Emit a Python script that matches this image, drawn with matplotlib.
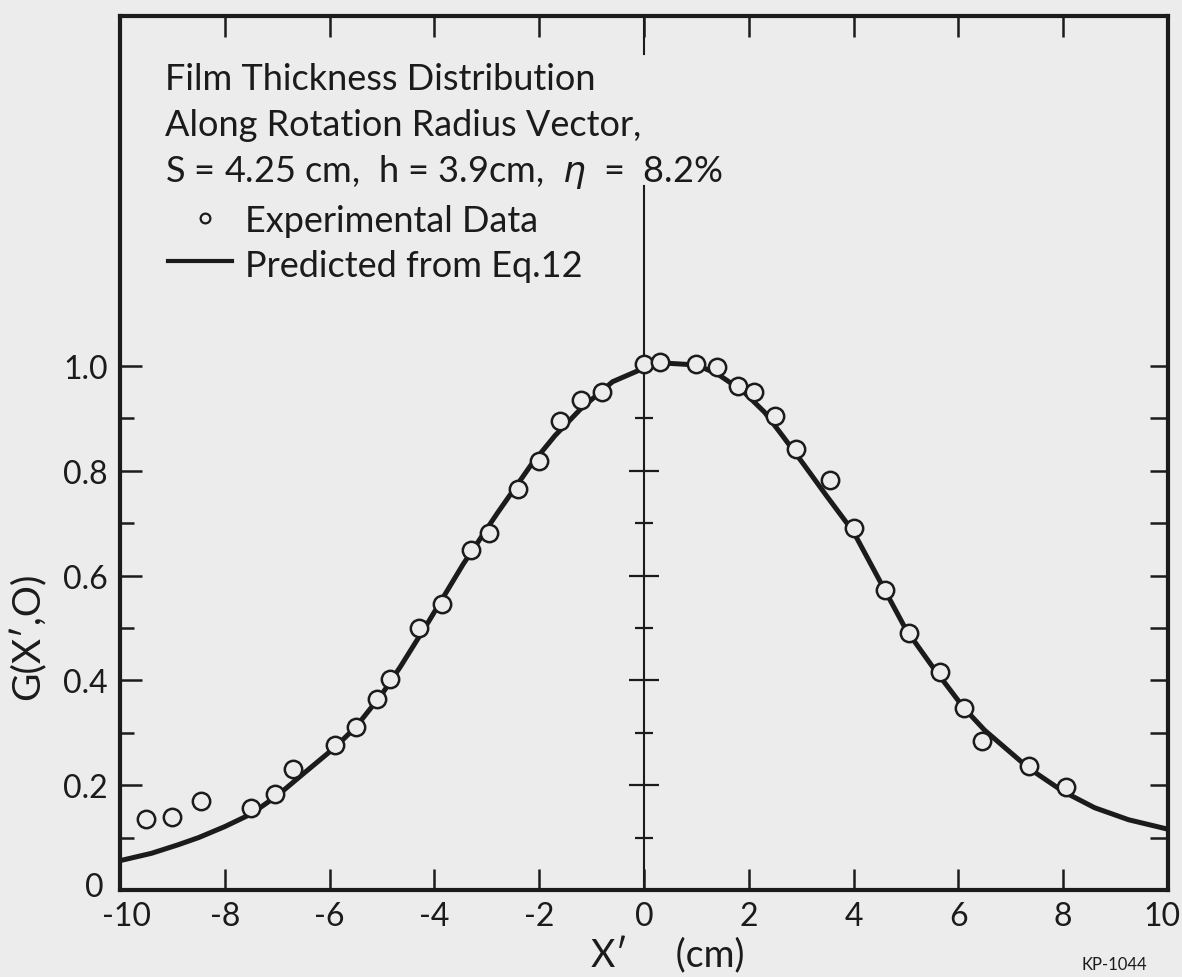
import numpy as np
import matplotlib.pyplot as plt
from matplotlib.lines import Line2D
from matplotlib.transforms import ScaledTranslation

plt.rcParams['font.family'] = ['Lato', 'DejaVu Sans']

# experimental data (circles)
exp_x = [-9.5, -9.0, -8.45, -7.5, -7.05, -6.7, -5.9, -5.5, -5.1, -4.85, -4.3, -3.85,
         -3.3, -2.95, -2.4, -2.0, -1.6, -1.2, -0.8, 0.0, 0.3, 1.0, 1.4, 1.8, 2.1, 2.5,
         2.9, 3.55, 4.0, 4.6, 5.05, 5.65, 6.1, 6.45, 7.35, 8.05]
exp_y = [0.135, 0.139, 0.169, 0.156, 0.183, 0.231, 0.276, 0.312, 0.365, 0.403, 0.50, 0.546,
         0.649, 0.681, 0.765, 0.818, 0.895, 0.935, 0.95, 1.003, 1.008, 1.004, 0.998, 0.962, 0.95, 0.905,
         0.842, 0.782, 0.69, 0.573, 0.49, 0.416, 0.347, 0.284, 0.237, 0.197]

# predicted curve (Eq. 12)
pred_x = [-10, -9.4, -8.9, -8.5, -8.0, -7.5, -7.0, -6.5, -5.9, -5.5, -5.0, -4.65, -4.1,
          -3.45, -2.8, -2.15, -1.7, -1.2, -0.6, 0.0, 0.5, 1.0, 1.4, 1.9, 2.3, 2.65, 3.05,
          3.5, 4.0, 4.5, 5.0, 5.5, 6.1, 6.5, 7.0, 7.35, 8.0, 8.6, 9.25, 10]
pred_y = [0.056, 0.070, 0.086, 0.100, 0.121, 0.145, 0.180, 0.222, 0.272, 0.311, 0.374, 0.426, 0.514,
          0.622, 0.719, 0.812, 0.867, 0.919, 0.970, 0.996, 1.005, 1.002, 0.985, 0.951, 0.912, 0.866, 0.812,
          0.75, 0.683, 0.59, 0.497, 0.427, 0.348, 0.305, 0.262, 0.232, 0.188, 0.157, 0.134, 0.116]

x_ticks = [-10, -8, -6, -4, -2, 0, 2, 4, 6, 8, 10]
x_labels = ['-10', '-8', '-6', '-4', '-2', '0', '2', '4', '6', '8', '10']
y_major = [0, 0.2, 0.4, 0.6, 0.8, 1.0]
y_labels = ['0', '0.2', '0.4', '0.6', '0.8', '1.0']
y_minor = [0.1, 0.3, 0.5, 0.7, 0.9]
right_ticks = [0.1, 0.2, 0.3, 0.4, 0.5, 0.6, 0.7, 0.8, 0.9, 1.0]
center_major = [0.2, 0.4, 0.6, 0.8]
center_minor = [0.1, 0.3, 0.5, 0.7, 0.9]
y_top = 1.668

note_lines = ['Film Thickness Distribution',
              'Along Rotation Radius Vector,',
              r'S = 4.25 cm,  h = 3.9cm,  $\eta$  =  8.2%']

ink = '#1b1b1b'
paper = '#ececec'
W, H = 1182, 978

fig = plt.figure(figsize=(W / 100, H / 100), dpi=100, facecolor=paper)
ax = fig.add_axes([120 / W, 87 / H, 1048 / W, 874 / H], facecolor=paper)
ax.set_xlim(-10, 10)
ax.set_ylim(0, y_top)

for s in ax.spines.values():
    s.set_linewidth(3)
    s.set_color(ink)

ax.set_xticks(x_ticks)
ax.set_xticklabels(x_labels)
ax.set_yticks(y_major)
ax.set_yticklabels(y_labels)
ax.set_yticks(y_minor, minor=True)
ax.tick_params(axis='x', which='major', direction='in', length=15, width=1.8,
               top=True, labelsize=23, pad=8, colors=ink)
ax.tick_params(axis='y', which='major', direction='in', length=16, width=1.8,
               labelsize=23, pad=9, colors=ink)
ax.tick_params(axis='y', which='minor', direction='in', length=10, width=1.8, colors=ink)

# nudge the corner labels the way the drawing has them
xl = ax.get_xticklabels()
xl[0].set_transform(xl[0].get_transform() + ScaledTranslation(0.07, 0, fig.dpi_scale_trans))
xl[-1].set_transform(xl[-1].get_transform() + ScaledTranslation(-0.06, 0, fig.dpi_scale_trans))
yl = ax.get_yticklabels()
yl[0].set_transform(yl[0].get_transform() + ScaledTranslation(-0.04, 0.06, fig.dpi_scale_trans))

# right-hand ticks, all the same length
ax2 = ax.twinx()
ax2.set_ylim(0, y_top)
ax2.set_yticks(right_ticks)
ax2.tick_params(axis='y', direction='in', length=13, width=1.8, labelright=False, colors=ink)
for s in ax2.spines.values():
    s.set_visible(False)

# central axis at x = 0, broken behind the note text
ax.plot([0, 0], [0, 1.343], color=ink, lw=1.5, zorder=2)
ax.plot([0, 0], [1.595, y_top], color=ink, lw=1.5, zorder=2)
ax.plot(np.zeros(len(center_major)), center_major, ls='none', marker='_', ms=22, mew=1.6, color=ink)
ax.plot(np.zeros(len(center_minor)), center_minor, ls='none', marker='_', ms=13, mew=1.6, color=ink)

ax.plot(pred_x, pred_y, color=ink, lw=3.6, solid_joinstyle='round', zorder=3)
ax.plot(exp_x, exp_y, ls='none', marker='o', ms=12.5, mew=1.8, mec=ink, mfc=paper, zorder=4)

# note and hand-drawn legend
for i, line in enumerate(note_lines):
    fig.text(165 / W, 1 - (90 + 46 * i) / H, line, fontsize=26, color=ink, va='baseline')
fig.add_artist(Line2D([205 / W], [1 - 219 / H], marker='o', ms=7, mew=1.6, mec=ink, mfc='none', ls='none'))
fig.text(245 / W, 1 - 232 / H, 'Experimental Data', fontsize=26, color=ink, va='baseline')
fig.add_artist(Line2D([168 / W, 232 / W], [1 - 262 / H, 1 - 262 / H], color=ink, lw=3))
fig.text(245 / W, 1 - 277 / H, 'Predicted from Eq.12', fontsize=26, color=ink, va='baseline')

fig.text(668 / W, 1 - 956 / H, 'X\u2032     (cm)', fontsize=27, color=ink, ha='center', va='center')
fig.text(28 / W, 1 - 636 / H, 'G(X\u2032,O)', fontsize=28, color=ink, rotation=90, ha='center', va='center')
fig.text(1147 / W, 1 - 970 / H, 'KP-1044', fontsize=12, color=ink, ha='right', va='baseline')

fig.savefig('out.png', dpi=100, facecolor=paper)
